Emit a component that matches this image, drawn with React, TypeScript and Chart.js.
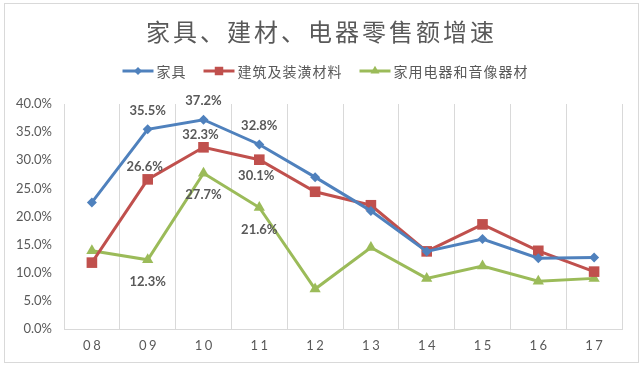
import React, { useEffect, useRef } from 'react';
import { Chart, registerables } from 'chart.js';

Chart.register(...registerables);

const titleText = '家具、建材、电器零售额增速';
const categories = ['08', '09', '10', '11', '12', '13', '14', '15', '16', '17'];
const seriesNames = ['家具', '建筑及装潢材料', '家用电器和音像器材'];
const furniture = [22.5, 35.5, 37.2, 32.8, 27.0, 21.0, 13.8, 16.0, 12.6, 12.7];
const building = [11.8, 26.6, 32.3, 30.1, 24.4, 22.0, 13.8, 18.6, 13.9, 10.2];
const appliances = [13.9, 12.3, 27.7, 21.6, 7.1, 14.5, 9.0, 11.2, 8.5, 9.0];
// which points carry a data label, and where
const furnitureLabelPos = ['', 'above', 'above', 'above', '', '', '', '', '', ''];
const buildingLabelPos = ['', 'above', 'above', 'below', '', '', '', '', '', ''];
const appliancesLabelPos = ['', 'below', 'below', 'below', '', '', '', '', '', ''];
const yTicks = [0, 5, 10, 15, 20, 25, 30, 35, 40];

const COLORS = ['#4F81BD', '#C0504D', '#9BBB59'];
const SHAPES = ['rectRot', 'rect', 'triangle'];
const RADII = [5, 7.5, 6.5];
const LABEL_STYLE = [
  { above: -19, below: 16, dx: 0 },
  { above: -13, below: 16, dx: -3 },
  { above: -19, below: 22, dx: 0 },
];
const TEXT = '#595959';
const GRID = '#d9d9d9';
const LATIN = 'Lato, "Noto Sans", sans-serif';
const CJK = '"Noto Sans CJK SC", "Noto Sans", sans-serif';

function drawMarker(ctx: CanvasRenderingContext2D, shape: string, x: number, y: number, r: number, color: string) {
  ctx.save();
  ctx.fillStyle = color;
  ctx.beginPath();
  if (shape === 'rectRot') {
    ctx.moveTo(x - r, y);
    ctx.lineTo(x, y - r);
    ctx.lineTo(x + r, y);
    ctx.lineTo(x, y + r);
  } else if (shape === 'rect') {
    const s = r * Math.SQRT1_2;
    ctx.rect(x - s, y - s, 2 * s, 2 * s);
  } else {
    const h = r;
    ctx.moveTo(x, y - h);
    ctx.lineTo(x + h * 0.866, y + h * 0.5);
    ctx.lineTo(x - h * 0.866, y + h * 0.5);
  }
  ctx.closePath();
  ctx.fill();
  ctx.restore();
}

const decorPlugin = {
  id: 'decor',
  beforeDraw(chart: any) {
    const ctx = chart.ctx as CanvasRenderingContext2D;
    ctx.save();
    ctx.fillStyle = '#ffffff';
    ctx.fillRect(0, 0, chart.width, chart.height);
    ctx.restore();
  },
  afterDraw(chart: any) {
    const ctx = chart.ctx as CanvasRenderingContext2D;
    ctx.save();
    // outer border
    ctx.strokeStyle = GRID;
    ctx.lineWidth = 1;
    ctx.strokeRect(4.5, 3.5, 634, 359);

    // title
    ctx.fillStyle = TEXT;
    ctx.font = `24px ${CJK}`;
    (ctx as any).letterSpacing = '3px';
    ctx.textBaseline = 'middle';
    ctx.textAlign = 'left';
    const tw = ctx.measureText(titleText).width - 3;
    ctx.fillText(titleText, 320 - tw / 2, 32);

    // legend
    ctx.font = `14px ${CJK}`;
    (ctx as any).letterSpacing = '1px';
    const lineLen = 31;
    const gapText = 3;
    const gapItem = 18;
    const widths = seriesNames.map((n) => ctx.measureText(n).width - 1);
    const total = widths.reduce((a, b) => a + b, 0) + seriesNames.length * (lineLen + gapText) + gapItem * (seriesNames.length - 1);
    let lx = 325 - total / 2;
    const ly = 71;
    seriesNames.forEach((name, i) => {
      ctx.strokeStyle = COLORS[i];
      ctx.lineWidth = 3;
      ctx.beginPath();
      ctx.moveTo(lx, ly);
      ctx.lineTo(lx + lineLen, ly);
      ctx.stroke();
      drawMarker(ctx, SHAPES[i], lx + lineLen / 2, ly, RADII[i] * 0.8, COLORS[i]);
      ctx.fillStyle = TEXT;
      ctx.fillText(name, lx + lineLen + gapText, ly + 1);
      lx += lineLen + gapText + widths[i] + gapItem;
    });

    // x labels
    const xs = chart.scales.x;
    ctx.font = `13px ${LATIN}`;
    (ctx as any).letterSpacing = '2.5px';
    ctx.fillStyle = TEXT;
    categories.forEach((c, i) => {
      const x = xs.getPixelForValue(i);
      const w = ctx.measureText(c).width - 2.5;
      ctx.fillText(c, x - w / 2, 346);
    });

    // data labels
    (ctx as any).letterSpacing = '0px';
    ctx.font = `bold 13px ${LATIN}`;
    ctx.textAlign = 'center';
    const positions = [furnitureLabelPos, buildingLabelPos, appliancesLabelPos];
    chart.data.datasets.forEach((ds: any, di: number) => {
      const meta = chart.getDatasetMeta(di);
      positions[di].forEach((p, j) => {
        if (!p) return;
        const pt = meta.data[j];
        const st = LABEL_STYLE[di];
        const dy = p === 'above' ? st.above : st.below;
        ctx.fillText(ds.data[j].toFixed(1) + '%', pt.x + st.dx, pt.y + dy);
      });
    });
    ctx.restore();
  },
};

export default function App() {
  const ref = useRef<HTMLCanvasElement>(null);
  useEffect(() => {
    if (!ref.current) return;
    const series = [furniture, building, appliances];
    const chart = new Chart(ref.current, {
      type: 'line',
      data: {
        labels: categories,
        datasets: series.map((d, i) => ({
          label: seriesNames[i],
          data: d,
          borderColor: COLORS[i],
          backgroundColor: COLORS[i],
          borderWidth: 3,
          pointStyle: SHAPES[i] as any,
          pointRadius: RADII[i],
          pointBorderWidth: 0,
          pointBackgroundColor: COLORS[i],
          tension: 0,
          clip: false as any,
        })),
      },
      options: {
        responsive: false,
        animation: false,
        devicePixelRatio: 1,
        layout: { padding: { top: 104, right: 22, left: 0, bottom: 0 } },
        plugins: {
          legend: { display: false },
          title: { display: false },
          tooltip: { enabled: false },
        },
        scales: {
          x: {
            type: 'category',
            offset: true,
            grid: { display: true, offset: true, color: GRID, lineWidth: 1, drawTicks: false },
            border: { display: true, color: GRID, width: 1 },
            ticks: { display: false },
            afterFit: (s: any) => { s.height = 39; },
          },
          y: {
            min: 0,
            max: 40,
            afterBuildTicks: (s: any) => { s.ticks = yTicks.map((v) => ({ value: v })); },
            grid: { display: false, drawTicks: false },
            border: { display: false },
            ticks: {
              padding: 12,
              color: TEXT,
              font: { family: LATIN, size: 13 },
              callback: (v: any) => Number(v).toFixed(1) + '%',
            },
            afterFit: (s: any) => { s.width = 64; },
          },
        },
      },
      plugins: [decorPlugin],
    });
    return () => chart.destroy();
  }, []);
  return (
    <div style={{ position: 'fixed', left: 0, top: 0, width: 644, height: 368, background: '#fff' }}>
      <canvas ref={ref} width={644} height={368} style={{ display: 'block' }} />
    </div>
  );
}
